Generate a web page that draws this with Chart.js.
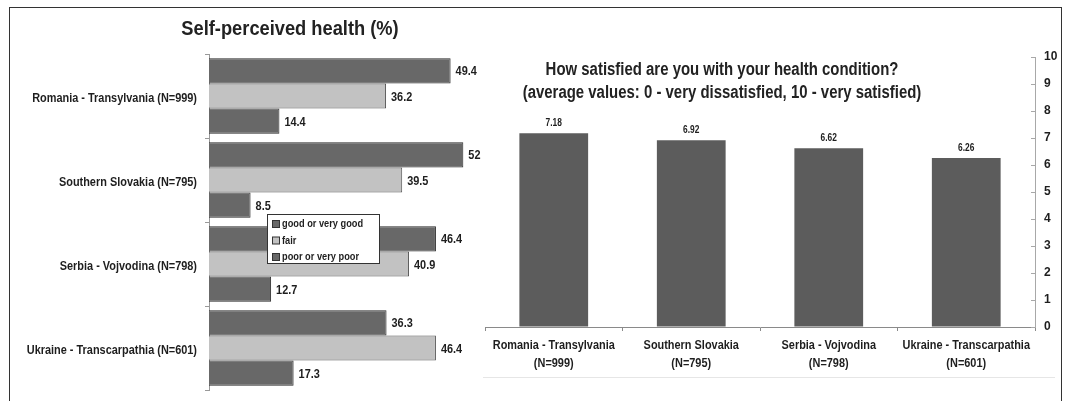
<!DOCTYPE html>
<html>
<head>
<meta charset="utf-8">
<script src="https://cdn.jsdelivr.net/npm/chart.js@4"></script>
<style>
  html, body { margin: 0; padding: 0; background: #fff; }
  body { width: 1066px; height: 401px; position: relative; overflow: hidden;
         font-family: "Liberation Sans", Arial, sans-serif; }
  #frame { position: absolute; left: 9px; top: 7px; width: 1053px; height: 410px;
           border: 1.5px solid #333; box-sizing: border-box; }
  .title { position: absolute; font-weight: bold; color: #222; text-align: center; white-space: nowrap; }
  #healthTitle { left: 90px; width: 400px; top: 15px; font-size: 21px; line-height: 26px; transform: scaleX(0.87); }
  #satTitle { left: 422px; width: 600px; top: 58px; font-size: 18px; line-height: 23px; transform: scaleX(0.83); }
  #healthChart { position: absolute; left: 0; top: 0; }
  #satChart { position: absolute; left: 470px; top: 0; }
  #satBottom { position: absolute; left: 483px; top: 377px; width: 572px; height: 1px; background: #e6e6e6; }
</style>
</head>
<body>
<div id="frame"></div>
<div id="satBottom"></div>
<canvas id="healthChart" width="500" height="401"></canvas>
<canvas id="satChart" width="596" height="401"></canvas>
<div class="title" id="healthTitle">Self-perceived health (%)</div>
<div class="title" id="satTitle">How satisfied are you with your health condition?<br>(average values: 0 - very dissatisfied, 10 - very satisfied)</div>

<script>
// Self-perceived health, % per region
const regions = [
  "Romania - Transylvania (N=999)",
  "Southern Slovakia (N=795)",
  "Serbia - Vojvodina (N=798)",
  "Ukraine - Transcarpathia (N=601)",
];
const healthLabels = ["good or very good", "fair", "poor or very poor"];
const goodValues = [49.4, 52, 46.4, 36.3];
const fairValues = [36.2, 39.5, 40.9, 46.4];
const poorValues = [14.4, 8.5, 12.7, 17.3];

// Satisfaction with health condition, average 0-10
const satRegions = [
  ["Romania - Transylvania", "(N=999)"],
  ["Southern Slovakia", "(N=795)"],
  ["Serbia - Vojvodina", "(N=798)"],
  ["Ukraine - Transcarpathia", "(N=601)"],
];
const satValues = [7.18, 6.92, 6.62, 6.26];
const satTicks = { min: 0, max: 10, step: 1 };

const FONT = "'Liberation Sans', Arial, sans-serif";
const CSS_FONT = '"Liberation Sans", Arial, sans-serif';
const NARROW = 0.84; // squeeze factor, no condensed face installed
const DARK = "#686868";
const LIGHT = "#c2c2c2";
const TEXT = "#1e1e1e";

Chart.defaults.font.family = FONT;
Chart.defaults.color = TEXT;
Chart.defaults.animation = false;

// bold text squeezed horizontally
function narrowText(ctx, text, x, y, size, align, baseline) {
  ctx.save();
  ctx.font = `bold ${size}px ${CSS_FONT}`;
  ctx.fillStyle = TEXT;
  ctx.textAlign = align;
  ctx.textBaseline = baseline;
  ctx.translate(x, y);
  ctx.scale(NARROW, 1);
  ctx.fillText(text, 0, 0);
  ctx.restore();
}

// value labels next to / above the bars
const valueLabels = {
  id: "valueLabels",
  afterDatasetsDraw(chart, args, opts) {
    const ctx = chart.ctx;
    chart.data.datasets.forEach((ds, i) => {
      chart.getDatasetMeta(i).data.forEach((bar, j) => {
        const text = opts.format(ds.data[j]);
        if (opts.horizontal) {
          narrowText(ctx, text, bar.x + 5, bar.y + 1, opts.size, "left", "middle");
        } else {
          narrowText(ctx, text, bar.x, bar.y - 5, opts.size, "center", "bottom");
        }
      });
    });
  },
};

// category names drawn from the category scale positions
const categoryText = {
  id: "categoryText",
  afterDraw(chart, args, opts) {
    const ctx = chart.ctx;
    const scale = chart.scales[opts.axis];
    chart.data.labels.forEach((label, i) => {
      const p = scale.getPixelForTick(i);
      if (opts.axis === "y") {
        narrowText(ctx, label, scale.right - 12, p + 2, 13, "right", "middle");
      } else {
        [].concat(label).forEach((line, k) => {
          narrowText(ctx, line, p, scale.top + 18 + k * 18, 13, "center", "middle");
        });
      }
    });
  },
};

// boxed legend laid over the bars
const boxLegend = {
  id: "boxLegend",
  afterDraw(chart, args, opts) {
    const ctx = chart.ctx;
    const { x, y, w, h } = opts;
    ctx.save();
    ctx.fillStyle = "#fff";
    ctx.fillRect(x, y, w, h);
    ctx.strokeStyle = "#333";
    ctx.lineWidth = 1;
    ctx.strokeRect(x + 0.5, y + 0.5, w, h);
    chart.data.datasets.forEach((ds, i) => {
      const cy = y + 10 + i * 16.5;
      ctx.fillStyle = ds.backgroundColor;
      ctx.fillRect(x + 5.5, cy - 3.5, 7, 7);
      ctx.strokeStyle = "#333";
      ctx.strokeRect(x + 5.5, cy - 3.5, 7, 7);
      narrowText(ctx, ds.label, x + 15, cy, 11, "left", "middle");
    });
    ctx.restore();
  },
};

// short tick marks on the inner side of the right axis
const innerTicks = {
  id: "innerTicks",
  afterDraw(chart) {
    const scale = chart.scales.y;
    const ctx = chart.ctx;
    ctx.save();
    ctx.strokeStyle = "#a8a8a8";
    ctx.lineWidth = 1;
    scale.ticks.forEach((t) => {
      const py = Math.round(scale.getPixelForValue(t.value)) + 0.5;
      ctx.beginPath();
      ctx.moveTo(scale.left - 4, py);
      ctx.lineTo(scale.left, py);
      ctx.stroke();
    });
    ctx.restore();
  },
};

new Chart(document.getElementById("healthChart"), {
  type: "bar",
  data: {
    labels: regions,
    datasets: [
      { label: healthLabels[0], data: goodValues, backgroundColor: DARK, borderColor: "#2a2a2a", borderWidth: 1 },
      { label: healthLabels[1], data: fairValues, backgroundColor: LIGHT, borderColor: "#555", borderWidth: 1 },
      { label: healthLabels[2], data: poorValues, backgroundColor: DARK, borderColor: "#2a2a2a", borderWidth: 1 },
    ],
  },
  plugins: [valueLabels, boxLegend, categoryText],
  options: {
    responsive: false,
    indexAxis: "y",
    layout: { padding: { top: 54, bottom: 11, left: 0, right: 22 } },
    datasets: { bar: { categoryPercentage: 0.9, barPercentage: 1.0 } },
    scales: {
      x: { display: false, min: 0, max: 55 },
      y: {
        afterFit: (scale) => { scale.width = 209; },
        grid: { drawOnChartArea: false, offset: true, tickLength: 4, color: "#999" },
        border: { color: "#999" },
        ticks: { display: false },
      },
    },
    plugins: {
      legend: { display: false },
      tooltip: { enabled: false },
      valueLabels: { size: 13, horizontal: true, format: (v) => String(v) },
      boxLegend: { x: 267, y: 214, w: 112, h: 49 },
      categoryText: { axis: "y" },
    },
  },
});

new Chart(document.getElementById("satChart"), {
  type: "bar",
  data: {
    labels: satRegions,
    datasets: [{ data: satValues, backgroundColor: "#5c5c5c", borderWidth: 0 }],
  },
  plugins: [valueLabels, innerTicks, categoryText],
  options: {
    responsive: false,
    layout: { padding: { top: 57, bottom: 24, left: 15, right: 0 } },
    datasets: { bar: { categoryPercentage: 1.0, barPercentage: 0.5 } },
    scales: {
      x: {
        afterFit: (scale) => { scale.height = 50; },
        grid: { drawOnChartArea: false, offset: true, tickLength: 4, color: "#8a8a8a" },
        border: { color: "#8a8a8a" },
        ticks: { display: false },
      },
      y: {
        position: "right",
        min: satTicks.min,
        max: satTicks.max,
        afterFit: (scale) => { scale.width = 31; },
        grid: { display: true, drawOnChartArea: false, drawTicks: false, color: "#a8a8a8" },
        border: { color: "#a8a8a8" },
        ticks: { stepSize: satTicks.step, font: { size: 12, weight: "bold" }, padding: 9, color: TEXT },
      },
    },
    plugins: {
      legend: { display: false },
      tooltip: { enabled: false },
      valueLabels: { size: 10, horizontal: false, format: (v) => v.toFixed(2) },
      categoryText: { axis: "x" },
    },
  },
});
</script>
</body>
</html>
